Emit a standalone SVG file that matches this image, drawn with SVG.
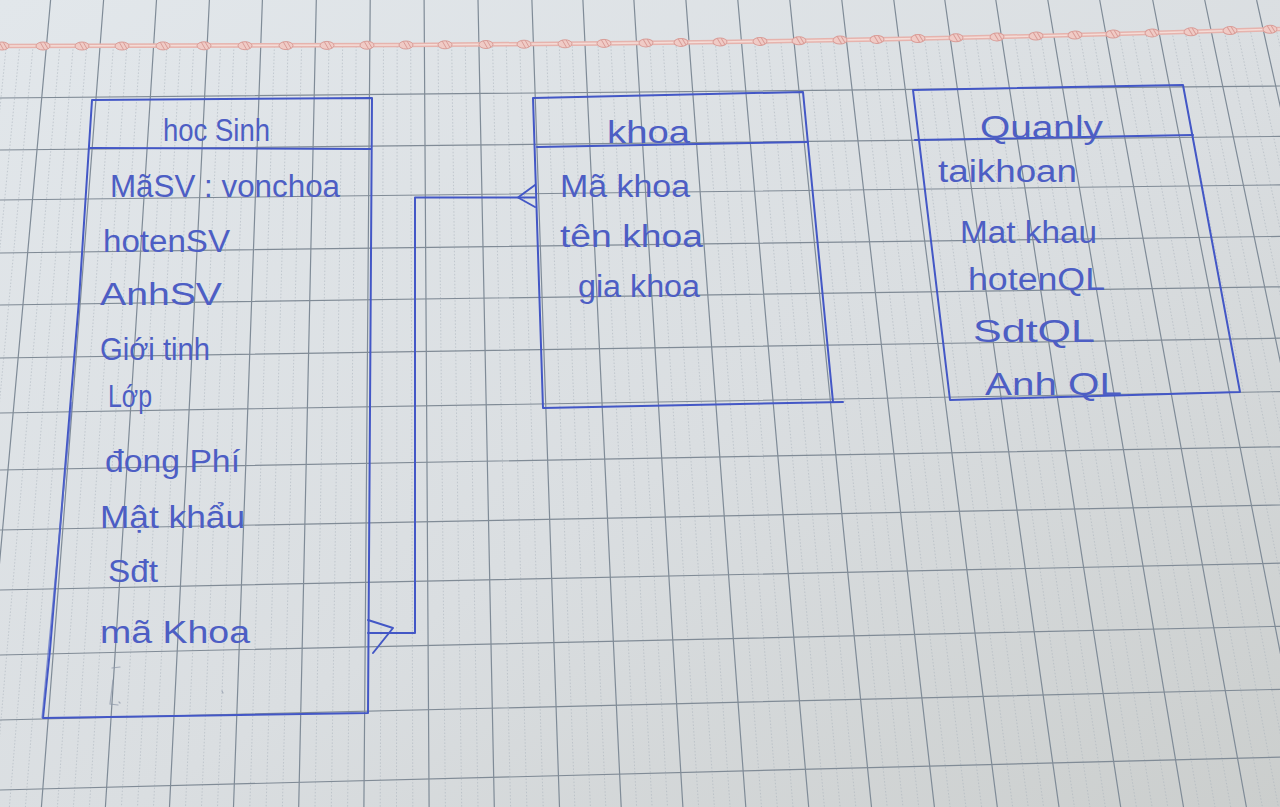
<svg xmlns="http://www.w3.org/2000/svg" xmlns:xlink="http://www.w3.org/1999/xlink" width="1280" height="807" viewBox="0 0 1280 807">
  <defs>
    <linearGradient id="paper" x1="0" y1="0" x2="1" y2="1">
      <stop offset="0" stop-color="#e2e7eb"/>
      <stop offset="0.55" stop-color="#dadee1"/>
      <stop offset="1" stop-color="#cbcecd"/>
    </linearGradient>
    <clipPath id="belowMargin">
      <polygon points="0,47 406,46 604,44.4 720,43 877,40.4 1036,37 1191,32.8 1280,30 1280,807 0,807"/>
    </clipPath>
    <g id="knot">
      <ellipse cx="0" cy="0" rx="7" ry="4" fill="#f0cbc6" stroke="#d99d98" stroke-width="1"/>
      <path d="M-2.8,-3.8 L1.6,3.8 M1.2,-3.8 L5,2.8" fill="none" stroke="#d99d98" stroke-width="1"/>
    </g>
    <style>
      .major { stroke: #7f8b97; stroke-width: 1.2; fill: none; }
      .minor { stroke: #a9b2bb; stroke-width: 0.7; stroke-dasharray: 1.5 1.8; fill: none; opacity: 0.8; }
      .row { stroke: #808b96; stroke-width: 1.2; fill: none; }
      .ink { stroke: #4357c6; stroke-width: 2; fill: none; stroke-linecap: round; stroke-linejoin: round; }
      .ink-faint { stroke: #5a6cc8; stroke-width: 1.3; fill: none; opacity: 0.7; }
      .pencil { stroke: #8b95a6; stroke-width: 1.2; fill: none; opacity: 0.7; stroke-linecap: round; }
      .hand { font-family: "Liberation Sans", "DejaVu Sans", sans-serif; font-size: 31px; fill: #4d5ec4; }
    </style>
  </defs>

  <!-- paper -->
  <rect x="0" y="0" width="1280" height="807" fill="url(#paper)"/>

  <!-- fine dotted rulings, only below the pink margin line -->
  <g id="grid-minor" clip-path="url(#belowMargin)">
    <path class="minor" d="
      M10.9,0 L-70.7,807 M24.2,0 L-54.7,807 M37.4,0 L-38.6,807
      M63.9,0 L-6.6,807 M77.1,0 L9.4,807 M90.4,0 L25.4,807
      M116.8,0 L57.4,807 M130.1,0 L73.4,807 M143.3,0 L89.4,807
      M169.7,0 L121.4,807 M183,0 L137.5,807 M196.2,0 L153.5,807
      M222.7,0 L185.5,807 M235.9,0 L201.5,807 M249.2,0 L217.5,807
      M275.9,0 L249.8,807 M289.4,0 L266.1,807 M302.8,0 L282.4,807
      M329.8,0 L315,807 M343.3,0 L331.3,807 M356.7,0 L347.6,807
      M383.7,0 L380.2,807 M397.2,0 L396.5,807 M410.6,0 L412.8,807
      M437.6,0 L445.4,807 M451.1,0 L461.7,807 M464.5,0 L478,807
      M491.5,0 L510.6,807 M505,0 L526.9,807 M518.4,0 L543.2,807
      M544.7,0 L574.9,807 M557.4,0 L590.4,807 M570.2,0 L605.8,807
      M595.7,0 L636.6,807 M608.4,0 L652.1,807 M621.2,0 L667.5,807
      M646.9,0 L698.6,807 M659.9,0 L714.4,807 M672.9,0 L730.1,807
      M698.9,0 L761.5,807 M711.9,0 L777.3,807 M724.8,0 L793,807
      M750.8,0 L824.4,807 M763.8,0 L840.1,807 M776.8,0 L855.8,807
      M802.8,0 L887.2,807 M815.8,0 L903,807 M828.8,0 L918.7,807
      M854.8,0 L950.1,807 M867.8,0 L965.9,807 M880.8,0 L981.6,807
      M906.6,0 L1012.7,807 M919.3,0 L1028.2,807 M932.1,0 L1043.6,807
      M957.6,0 L1074.4,807 M970.3,0 L1089.9,807 M983.1,0 L1105.3,807
      M1008.8,0 L1136.4,807 M1021.8,0 L1152.1,807 M1034.8,0 L1167.8,807
      M1060.8,0 L1199.2,807 M1073.8,0 L1215,807 M1086.7,0 L1230.7,807
      M1113,0 L1262.4,807 M1126.2,0 L1278.4,807 M1139.5,0 L1294.4,807
      M1165.7,0 L1326.1,807 M1178.7,0 L1341.9,807 M1191.7,0 L1357.6,807
      M1217.7,0 L1389,807 M1230.7,0 L1404.8,807 M1243.6,0 L1420.5,807
      M1269.6,0 L1451.9,807"/>
  </g>

  <!-- main rulings: vertical -->
  <g id="grid-major">
    <path class="major" d="
      M-2.3,0 L-86.7,807 M50.6,0 L-22.6,807 M103.6,0 L41.4,807 M156.5,0 L105.4,807
      M209.4,0 L169.5,807 M262.4,0 L233.5,807 M316.3,0 L298.7,807 M370.2,0 L363.9,807
      M424.1,0 L429.1,807 M478,0 L494.3,807 M531.9,0 L559.5,807 M582.9,0 L621.2,807
      M633.9,0 L682.9,807 M685.9,0 L745.8,807 M737.8,0 L808.7,807 M789.8,0 L871.5,807
      M841.8,0 L934.4,807 M893.8,0 L997.3,807 M944.8,0 L1059,807 M995.8,0 L1120.7,807
      M1047.8,0 L1183.5,807 M1099.7,0 L1246.4,807 M1152.7,0 L1310.4,807 M1204.7,0 L1373.3,807
      M1256.6,0 L1436.2,807"/>
    <!-- horizontal -->
    <path class="row" d="
      M0,98 L1280,86 M0,150 L1280,136.4 M0,200 L1280,184.9 M0,253 L1280,236.4
      M0,305 L1280,286.8 M0,358 L1280,338.2 M0,413 L1280,391.6 M0,470 L1280,446.8
      M0,530 L1280,505 M0,590 L1280,563.2 M0,655 L1280,626.3 M0,720 L1280,689.3
      M0,790 L1280,757.2"/>
  </g>

  <!-- pink margin cord -->
  <g id="margin-cord">
    <path d="M0,46 L406,45 L604,43.4 L720,42 L799,40.8 L877,39.4 L956,37.8 L1036,36 L1113,34 L1191,31.8 L1280,29" fill="none" stroke="#e6b3ad" stroke-width="4.6"/>
    <path d="M0,46 L406,45 L604,43.4 L720,42 L799,40.8 L877,39.4 L956,37.8 L1036,36 L1113,34 L1191,31.8 L1280,29" fill="none" stroke="#f4dcd7" stroke-width="1.6"/>
    <use xlink:href="#knot" transform="translate(2,46)"/>
    <use xlink:href="#knot" transform="translate(43,46)"/>
    <use xlink:href="#knot" transform="translate(82,46)"/>
    <use xlink:href="#knot" transform="translate(122,46)"/>
    <use xlink:href="#knot" transform="translate(163,45.9)"/>
    <use xlink:href="#knot" transform="translate(204,45.8)"/>
    <use xlink:href="#knot" transform="translate(245,45.7)"/>
    <use xlink:href="#knot" transform="translate(286,45.6)"/>
    <use xlink:href="#knot" transform="translate(327,45.4)"/>
    <use xlink:href="#knot" transform="translate(367,45.2)"/>
    <use xlink:href="#knot" transform="translate(406,45)"/>
    <use xlink:href="#knot" transform="translate(445,44.8)"/>
    <use xlink:href="#knot" transform="translate(486,44.5)"/>
    <use xlink:href="#knot" transform="translate(524,44.2)"/>
    <use xlink:href="#knot" transform="translate(565,43.8)"/>
    <use xlink:href="#knot" transform="translate(604,43.4)"/>
    <use xlink:href="#knot" transform="translate(646,42.9) rotate(-1)"/>
    <use xlink:href="#knot" transform="translate(681,42.4) rotate(-1)"/>
    <use xlink:href="#knot" transform="translate(720,42) rotate(-1)"/>
    <use xlink:href="#knot" transform="translate(760,41.4) rotate(-1)"/>
    <use xlink:href="#knot" transform="translate(799,40.8) rotate(-1)"/>
    <use xlink:href="#knot" transform="translate(840,40.1) rotate(-1)"/>
    <use xlink:href="#knot" transform="translate(877,39.4) rotate(-1)"/>
    <use xlink:href="#knot" transform="translate(918,38.6) rotate(-1)"/>
    <use xlink:href="#knot" transform="translate(956,37.8) rotate(-1)"/>
    <use xlink:href="#knot" transform="translate(997,36.9) rotate(-1)"/>
    <use xlink:href="#knot" transform="translate(1036,36) rotate(-1.5)"/>
    <use xlink:href="#knot" transform="translate(1075,35) rotate(-1.5)"/>
    <use xlink:href="#knot" transform="translate(1113,34) rotate(-1.5)"/>
    <use xlink:href="#knot" transform="translate(1152,32.9) rotate(-1.5)"/>
    <use xlink:href="#knot" transform="translate(1191,31.8) rotate(-1.5)"/>
    <use xlink:href="#knot" transform="translate(1230,30.6) rotate(-1.5)"/>
    <use xlink:href="#knot" transform="translate(1270,29.3) rotate(-1.5)"/>
  </g>

  <!-- entity: hoc Sinh -->
  <g id="hocSinh">
    <path class="ink" d="M92,100 L372,98 L370,410 L368,713 L43,718 L50,650 L79,300 Z"/>
    <path class="ink-faint" d="M72,402 L42,718"/>
    <path class="ink" d="M90,148 L371,149"/>
    <text class="hand" x="163" y="141" textLength="107" lengthAdjust="spacingAndGlyphs">hoc Sinh</text>
    <text class="hand" x="110" y="197" textLength="230" lengthAdjust="spacingAndGlyphs">MãSV : vonchoa</text>
    <text class="hand" x="103" y="252" textLength="127" lengthAdjust="spacingAndGlyphs">hotenSV</text>
    <text class="hand" x="100" y="305" textLength="122" lengthAdjust="spacingAndGlyphs">AnhSV</text>
    <text class="hand" x="100" y="360" textLength="110" lengthAdjust="spacingAndGlyphs">Giới tinh</text>
    <text class="hand" x="108" y="407" textLength="44" lengthAdjust="spacingAndGlyphs">Lớp</text>
    <text class="hand" x="105" y="472" textLength="135" lengthAdjust="spacingAndGlyphs">đong Phí</text>
    <text class="hand" x="100" y="528" textLength="145" lengthAdjust="spacingAndGlyphs">Mật khẩu</text>
    <text class="hand" x="108" y="582" textLength="50" lengthAdjust="spacingAndGlyphs">Sđt</text>
    <text class="hand" x="100" y="643" textLength="150" lengthAdjust="spacingAndGlyphs">mã Khoa</text>
    <path class="pencil" d="M112,668 L120,667 M113,680 L110,704 L118,705 M119,702 L120,703 M222,691 L223,693"/>
  </g>

  <!-- entity: khoa -->
  <g id="khoa">
    <path class="ink" d="M533,98 L803,92 L833,402 M543,408 L533,98 M543,408 L843,402"/>
    <path class="ink" d="M537,147 L808,142"/>
    <text class="hand" x="607" y="143" textLength="83" lengthAdjust="spacingAndGlyphs">khoa</text>
    <text class="hand" x="560" y="197" textLength="130" lengthAdjust="spacingAndGlyphs">Mã khoa</text>
    <text class="hand" x="560" y="247" textLength="143" lengthAdjust="spacingAndGlyphs">tên khoa</text>
    <text class="hand" x="578" y="297" textLength="122" lengthAdjust="spacingAndGlyphs">gia khoa</text>
  </g>

  <!-- entity: Quanly -->
  <g id="quanly">
    <path class="ink" d="M913,90 L1183,85 L1240,392 L950,400 Z"/>
    <path class="ink" d="M915,140 L1193,135"/>
    <text class="hand" x="980" y="138" textLength="123" lengthAdjust="spacingAndGlyphs">Quanly</text>
    <text class="hand" x="938" y="182" textLength="139" lengthAdjust="spacingAndGlyphs">taikhoan</text>
    <text class="hand" x="960" y="243" textLength="137" lengthAdjust="spacingAndGlyphs">Mat khau</text>
    <text class="hand" x="968" y="290" textLength="137" lengthAdjust="spacingAndGlyphs">hotenQL</text>
    <text class="hand" x="973" y="342" textLength="122" lengthAdjust="spacingAndGlyphs">SdtQL</text>
    <text class="hand" x="985" y="395" textLength="137" lengthAdjust="spacingAndGlyphs">Anh QL</text>
  </g>

  <!-- relation: hocSinh.maKhoa -> khoa.MaKhoa -->
  <g id="connectors">
    <path class="ink" d="M368,633 L415,633 L415,197.5 L535,197.5"/>
    <path class="ink" d="M368,620 L393,628 L373,653"/>
    <path class="ink" d="M535,185 L518,197.5 L535,207"/>
  </g>
</svg>
